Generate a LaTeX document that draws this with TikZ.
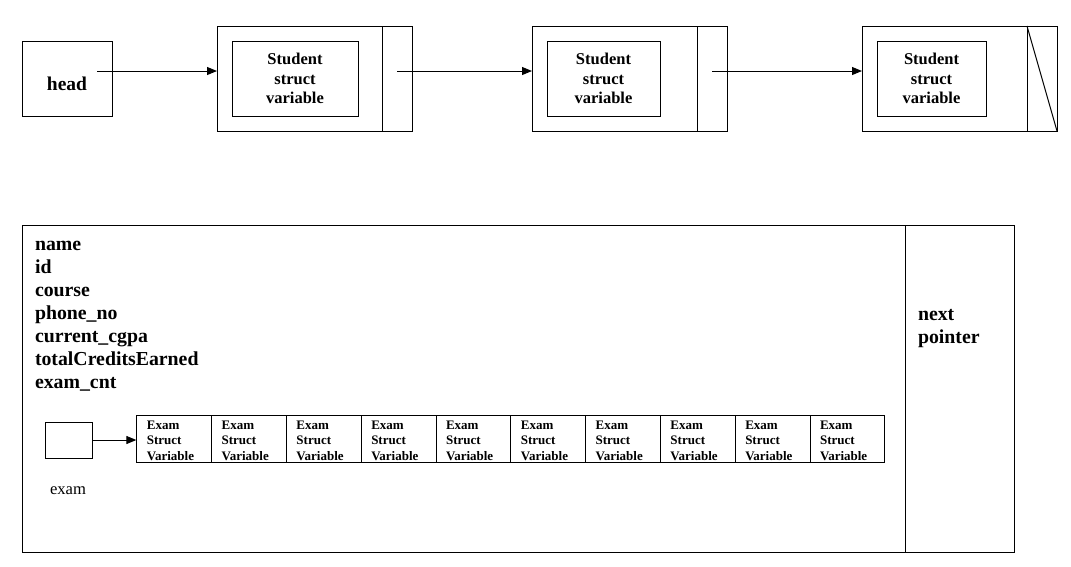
\documentclass[tikz,border=0pt]{standalone}
\usepackage{fontspec}
\setmainfont{Liberation Serif}
\usetikzlibrary{matrix,positioning,arrows.meta,calc}

\tikzset{
  box/.style={draw, line width=1pt, outer sep=0pt, inner sep=0pt},
  listnode/.style={box, minimum width=195pt, minimum height=105pt},
  datanode/.style={box, minimum height=75pt, align=center, font=\fontsize{16.5}{19.5}\selectfont\bfseries},
  ptr/.style={line width=1pt, -{Triangle[length=10pt,width=8pt]}},
  field/.style={anchor=west, inner sep=0pt, text height=16.5pt, text depth=6.5pt, font=\fontsize{19.8}{23}\selectfont\bfseries},
  examcell/.style={box, minimum width=74.8pt, minimum height=47.3pt, text width=54.8pt, inner xsep=10pt, text height=12.7pt, align=left, font=\fontsize{13}{15.7}\selectfont\bfseries},
}

\begin{document}
\begin{tikzpicture}[x=1pt,y=-1pt]
  \useasboundingbox (0,0) rectangle (1071,566);
  % linked list of students
  \node[box, minimum width=90pt, minimum height=75pt, text height=23.5pt, font=\fontsize{19.5}{23}\selectfont\bfseries] (head) at (67,78.5) {head};
  \node[listnode] (s1) at (314.5,78.5) {};
  \node[listnode] (s2) at (629.5,78.5) {};
  \node[listnode] (s3) at (959.5,78.5) {};
  \node[datanode, minimum width=126pt] (s1v) at (295,78.5) {Student\\struct\\variable};
  \node[datanode, minimum width=113pt] (s2v) at (603.5,78.5) {Student\\struct\\variable};
  \node[datanode, minimum width=109pt] (s3v) at (931.5,78.5) {Student\\struct\\variable};
  \foreach \n in {s1,s2,s3}
    \draw[line width=1pt] ([xshift=-30pt]\n.north east) -- ([xshift=-30pt]\n.south east);
  \draw[line width=1pt] ([xshift=-30pt]s3.north east) -- (s3.south east);
  \draw[ptr] ([xshift=-15pt,yshift=7.5pt]head.east) -- ([yshift=7.5pt]s1.west);
  \draw[ptr] ([xshift=-15pt,yshift=7.5pt]s1.east) -- ([yshift=7.5pt]s2.west);
  \draw[ptr] ([xshift=-15pt,yshift=7.5pt]s2.east) -- ([yshift=7.5pt]s3.west);

  % one student struct
  \node[box, minimum width=992pt, minimum height=327pt] (stud) at (518,388.5) {};
  \draw[line width=1pt] ([xshift=-109pt]stud.north east) -- ([xshift=-109pt]stud.south east);
  \matrix (fields) [matrix of nodes, nodes={field}, row sep=0pt, inner sep=0pt, outer sep=0pt, anchor=north west] at (35,234) {
    name \\
    id \\
    course \\
    phone\_no \\
    current\_cgpa \\
    totalCreditsEarned \\
    exam\_cnt \\
  };
  \matrix (next) [matrix of nodes, nodes={field}, row sep=0pt, inner sep=0pt, outer sep=0pt, anchor=north west] at (918,303.5) {
    next \\
    pointer \\
  };
  \node[box, minimum width=47pt, minimum height=36pt] (exam) at (68.5,440) {};
  \node[font=\fontsize{16.6}{20}\selectfont] (examlbl) at (68,490.3) {exam};
  \matrix (arr) [matrix of nodes, nodes={examcell}, column sep=-1pt, inner sep=0pt, outer sep=0pt,
                 ampersand replacement=\&] at (510.85,438.7) {
    {Exam\\Struct\\Variable} \& {Exam\\Struct\\Variable} \& {Exam\\Struct\\Variable} \& {Exam\\Struct\\Variable} \& {Exam\\Struct\\Variable} \&
    {Exam\\Struct\\Variable} \& {Exam\\Struct\\Variable} \& {Exam\\Struct\\Variable} \& {Exam\\Struct\\Variable} \& {Exam\\Struct\\Variable} \\
  };
  \draw[ptr] (exam.east) -- (exam.east -| arr.west);
\end{tikzpicture}
\end{document}
